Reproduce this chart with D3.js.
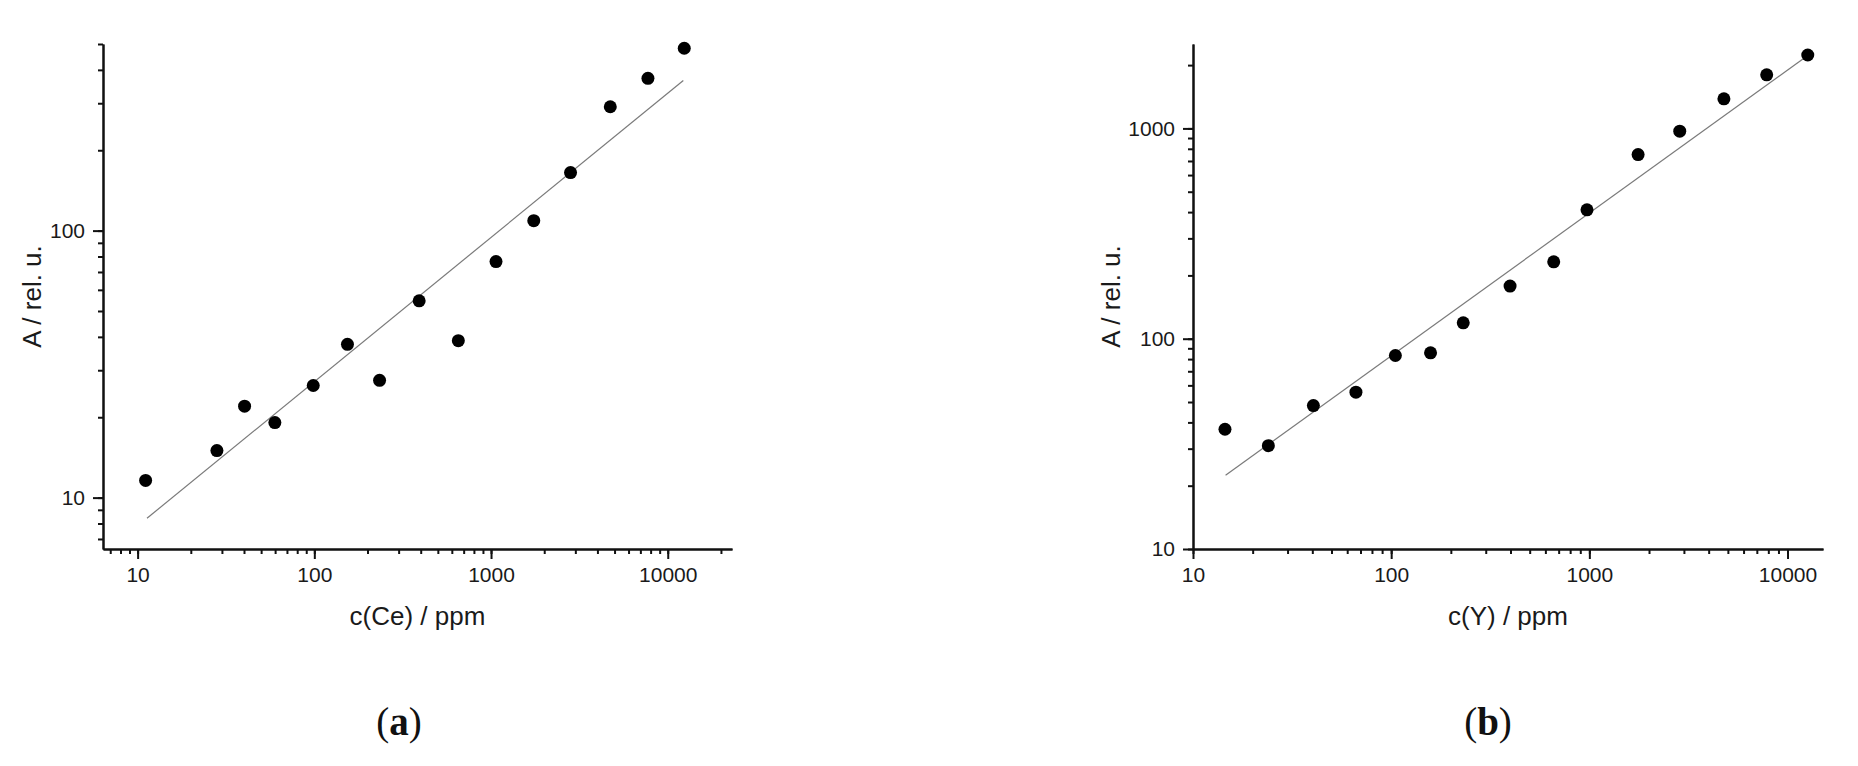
<!DOCTYPE html>
<html>
<head>
<meta charset="utf-8">
<script src="https://cdn.jsdelivr.net/npm/d3@7"></script>
<style>
  body { margin: 0; background: #fff; }
  svg { display: block; }
  .tick text { font-family: "Liberation Sans", Arial, sans-serif; font-size: 21px; fill: #1a1a1a; }
  .axis path.domain, .axis line { stroke: #111; stroke-width: 2; }
  .title { font-family: "Liberation Sans", Arial, sans-serif; font-size: 26px; fill: #1a1a1a; }
  .panel { font-family: "Liberation Serif", "Times New Roman", serif; font-size: 39px; fill: #111; }
</style>
</head>
<body>
<svg width="1858" height="766"></svg>
<script>
// (a) cerium calibration
var ceConc = [11.1, 28.1, 40.3, 59.8, 98.6, 154, 234, 392, 653, 1067, 1745, 2818, 4730, 7725, 12400];
var ceSignal = [11.6, 15.0, 22.0, 19.1, 26.3, 37.5, 27.5, 54.6, 38.7, 76.6, 109, 165, 291, 372, 482];
var ceFitConc = [11.3, 12250];
var ceFitSignal = [8.37, 365];

// (b) yttrium calibration
var yConc = [14.5, 24.0, 40.5, 66.4, 105, 158, 231, 398, 661, 973, 1762, 2858, 4775, 7850, 12650];
var ySignal = [37.1, 31.0, 48.1, 55.7, 83.2, 85.7, 119, 178, 232, 410, 751, 970, 1383, 1799, 2234];
var yFitConc = [14.6, 12650];
var yFitSignal = [22.4, 2223];

// tick labels
var xMajor = [10, 100, 1000, 10000];
var ceYMajor = [10, 100];
var yYMajor = [10, 100, 1000];

var svg = d3.select("svg");

function drawPanel(opt) {
  var x = d3.scaleLog().domain(opt.xDomain).range([opt.left, opt.right]);
  var y = d3.scaleLog().domain(opt.yDomain).range([opt.bottom, opt.top]);
  var g = svg.append("g");

  // minor ticks first (no labels), from the scale's own log ticks
  g.append("g").attr("class", "axis")
    .attr("transform", "translate(0," + opt.bottom + ")")
    .call(d3.axisBottom(x).tickValues(x.ticks()).tickSize(5).tickSizeOuter(0).tickFormat(""));
  g.append("g").attr("class", "axis")
    .attr("transform", "translate(" + opt.left + ",0)")
    .call(d3.axisLeft(y).tickValues(y.ticks()).tickSize(5).tickSizeOuter(0).tickFormat(""));

  // major ticks with labels
  g.append("g").attr("class", "axis")
    .attr("transform", "translate(0," + opt.bottom + ")")
    .call(d3.axisBottom(x).tickValues(xMajor).tickSize(10).tickPadding(8)
      .tickSizeOuter(0).tickFormat(d3.format("d")));
  g.append("g").attr("class", "axis")
    .attr("transform", "translate(" + opt.left + ",0)")
    .call(d3.axisLeft(y).tickValues(opt.yMajor).tickSize(10).tickPadding(8)
      .tickSizeOuter(0).tickFormat(d3.format("d")));

  // fit line
  var fit = opt.fitX.map(function (d, i) { return [d, opt.fitY[i]]; });
  g.append("path")
    .datum(fit)
    .attr("fill", "none")
    .attr("stroke", "#7a7a7a")
    .attr("stroke-width", 1.2)
    .attr("d", d3.line().x(function (d) { return x(d[0]); }).y(function (d) { return y(d[1]); }));

  // measured points
  g.selectAll("circle")
    .data(opt.xs)
    .enter()
    .append("circle")
    .attr("cx", function (d) { return x(d); })
    .attr("cy", function (d, i) { return y(opt.ys[i]); })
    .attr("r", 6.5)
    .attr("fill", "#000");

  // axis titles
  g.append("text").attr("class", "title")
    .attr("x", (opt.left + opt.right) / 2)
    .attr("y", 625)
    .attr("text-anchor", "middle")
    .text(opt.xTitle);
  g.append("text").attr("class", "title")
    .attr("transform", "translate(" + opt.yTitleX + "," + (opt.top + opt.bottom) / 2 + ") rotate(-90)")
    .attr("text-anchor", "middle")
    .text("A / rel. u.");

  // panel letter
  var lab = g.append("text").attr("class", "panel")
    .attr("x", opt.labelX)
    .attr("y", 735)
    .attr("text-anchor", "middle");
  lab.append("tspan").text("(");
  lab.append("tspan").attr("font-weight", "bold").text(opt.letter);
  lab.append("tspan").text(")");
}

drawPanel({
  xs: ceConc, ys: ceSignal, fitX: ceFitConc, fitY: ceFitSignal,
  xDomain: [6.37, 23100], yDomain: [6.42, 500], yMajor: ceYMajor,
  left: 103, right: 732, top: 44, bottom: 549,
  xTitle: "c(Ce) / ppm", yTitleX: 41, labelX: 399, letter: "a"
});

drawPanel({
  xs: yConc, ys: ySignal, fitX: yFitConc, fitY: yFitSignal,
  xDomain: [10, 15100], yDomain: [10, 2520], yMajor: yYMajor,
  left: 1193, right: 1823, top: 44, bottom: 549,
  xTitle: "c(Y) / ppm", yTitleX: 1120, labelX: 1488, letter: "b"
});
</script>
</body>
</html>
